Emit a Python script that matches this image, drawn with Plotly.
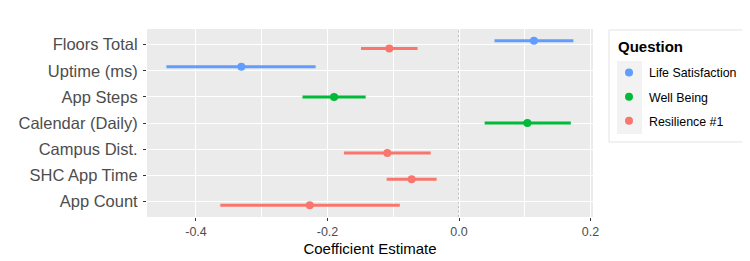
import plotly.graph_objects as go

# ---- data ----
categories = ["Floors Total", "Uptime (ms)", "App Steps", "Calendar (Daily)",
              "Campus Dist.", "SHC App Time", "App Count"]
questions_order = ["Life Satisfaction", "Well Being", "Resilience #1"]

variables = ["Floors Total", "Floors Total", "Uptime (ms)", "App Steps",
             "Calendar (Daily)", "Campus Dist.", "SHC App Time", "App Count"]
questions = ["Life Satisfaction", "Resilience #1", "Life Satisfaction", "Well Being",
             "Well Being", "Resilience #1", "Resilience #1", "Resilience #1"]
estimates = [0.114, -0.106, -0.331, -0.190, 0.104, -0.109, -0.072, -0.227]
lower = [0.054, -0.149, -0.445, -0.238, 0.039, -0.175, -0.110, -0.363]
upper = [0.174, -0.063, -0.218, -0.142, 0.170, -0.043, -0.034, -0.090]

x_ticks = [-0.4, -0.2, 0.0, 0.2]
legend_title = "Question"

# ---- styles ----
colors = {"Life Satisfaction": "#619CFF", "Well Being": "#00BA38", "Resilience #1": "#F8766D"}
dodge = {"Life Satisfaction": 0.15, "Well Being": 0.0, "Resilience #1": -0.15}
FONT = "Liberation Sans, Arial, sans-serif"

n = len(categories)
cat_pos = {c: n - i for i, c in enumerate(categories)}

fig = go.Figure()
for q in questions_order:
    idx = [i for i, qq in enumerate(questions) if qq == q]
    xs = [estimates[i] for i in idx]
    ys = [cat_pos[variables[i]] + dodge[q] for i in idx]
    plus = [upper[i] - estimates[i] for i in idx]
    minus = [estimates[i] - lower[i] for i in idx]
    fig.add_trace(go.Scatter(
        x=xs, y=ys, mode="markers", name=q,
        marker=dict(color=colors[q], size=8),
        error_x=dict(type="data", symmetric=False, array=plus, arrayminus=minus,
                     color=colors[q], thickness=3, width=0),
        legendgroup=q,
    ))

OFF = 8  # page body margin
W, H = 750 - OFF, 261 - OFF
L = 147 - OFF
T = 29 - OFF
R = W - (593 - OFF)
B = H - (217 - OFF)
pw, ph = W - L - R, H - T - B

def px_x(p):
    return (p - OFF - L) / pw

def px_y(p):
    return (H - B - (p - OFF)) / ph

fig.add_shape(type="line", xref="x", yref="paper", x0=0, x1=0, y0=0, y1=1,
              line=dict(color="#a6a6a6", width=1.3, dash="2px,2.5px"), layer="below")
# legend frame and key background
fig.add_shape(type="rect", xref="paper", yref="paper",
              x0=px_x(609), x1=px_x(744), y0=px_y(142), y1=px_y(30),
              line=dict(color="#e3e3e3", width=1), fillcolor="white", layer="below")
fig.add_shape(type="rect", xref="paper", yref="paper",
              x0=px_x(617), x1=px_x(642), y0=px_y(134), y1=px_y(61),
              line=dict(width=0), fillcolor="#f2f2f2", layer="below")
fig.add_annotation(xref="paper", yref="paper", x=px_x(616), y=px_y(47),
                   xanchor="left", yanchor="middle", showarrow=False,
                   text=f"<b>{legend_title}</b>", font=dict(size=15, color="black", family=FONT))

fig.update_layout(
    width=W, height=H,
    margin=dict(l=L, r=R, t=T, b=B, autoexpand=False),
    paper_bgcolor="white",
    plot_bgcolor="#EBEBEB",
    font=dict(family=FONT, color="#4D4D4D"),
    showlegend=True,
    legend=dict(
        x=px_x(609), xanchor="left", y=px_y(58), yanchor="top",
        bgcolor="rgba(0,0,0,0)", borderwidth=0,
        font=dict(size=12.4, color="black", family=FONT),
        tracegroupgap=5,
    ),
    xaxis=dict(
        range=[-0.4745, 0.2038], tickvals=x_ticks, ticktext=[f"{v:.1f}" for v in x_ticks],
        showgrid=True, gridcolor="white", gridwidth=1.2, zeroline=False,
        minor=dict(dtick=0.1, tick0=0, showgrid=True, gridcolor="white", gridwidth=0.5, ticks=""),
        ticks="outside", ticklen=3, tickcolor="#333333", tickwidth=1,
        tickfont=dict(size=12.5, color="#4D4D4D"),
        title=dict(text="Coefficient Estimate", font=dict(size=15, color="black"), standoff=5),
        showline=False, automargin=False,
    ),
    yaxis=dict(
        range=[0.4, n + 0.6], tickvals=[cat_pos[c] for c in categories], ticktext=categories,
        showgrid=True, gridcolor="white", gridwidth=1.2, zeroline=False,
        ticks="outside", ticklen=3, tickcolor="#333333", tickwidth=1,
        tickfont=dict(size=16.5, color="#4D4D4D"),
        ticklabelstandoff=2, automargin=False,
    ),
)

fig.write_html("out.html")
